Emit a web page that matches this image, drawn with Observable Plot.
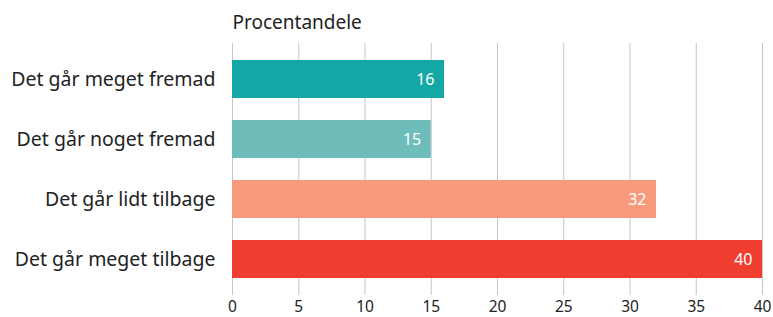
<!DOCTYPE html>
<html>
<head>
<meta charset="utf-8">
<script src="https://cdn.jsdelivr.net/npm/d3@7"></script>
<script src="https://cdn.jsdelivr.net/npm/@observablehq/plot@0.6"></script>
<style>
  html, body { margin: 0; padding: 0; background: #fff; }
  svg { display: block; }
</style>
</head>
<body>
<div id="chart"></div>
<script>
const categories = ["Det går meget fremad", "Det går noget fremad", "Det går lidt tilbage", "Det går meget tilbage"];
const values = [16, 15, 32, 40];
const colors = ["#13a8a5", "#6fbdbb", "#f69a7b", "#ef3e2f"];
const xTicks = [0, 5, 10, 15, 20, 25, 30, 35, 40];
const title = "Procentandele";

const data = categories.map((c, i) => ({ category: c, value: values[i], color: colors[i] }));

const chart = Plot.plot({
  width: 773,
  height: 317,
  marginLeft: 232,
  marginRight: 11,
  marginTop: 43,
  marginBottom: 22,
  style: { fontFamily: "'Noto Sans', sans-serif", color: "#222", background: "#fff" },
  x: { domain: [0, 40], ticks: xTicks, label: null },
  y: { domain: categories, paddingInner: 0.374, paddingOuter: 0.264, label: null },
  marks: [
    Plot.ruleX(xTicks, { stroke: "#c6c6c6", strokeWidth: 1 }),
    Plot.barX(data, { y: "category", x: "value", fill: "color" }),
    Plot.text(data, { y: "category", x: "value", text: d => String(d.value), fill: "#fff", textAnchor: "end", dx: -10, fontSize: 16 }),
    Plot.axisX({ ticks: xTicks, tickSize: 0, tickPadding: 5, fontSize: 15.5, fill: "#222", label: null }),
    Plot.axisY({ tickSize: 0, tickPadding: 17, fontSize: 19.5, fill: "#222", label: null }),
    Plot.text([title], { frameAnchor: "top-left", textAnchor: "start", dy: -28, fontSize: 19, fill: "#222" })
  ]
});
document.getElementById("chart").appendChild(chart);
</script>
</body>
</html>
